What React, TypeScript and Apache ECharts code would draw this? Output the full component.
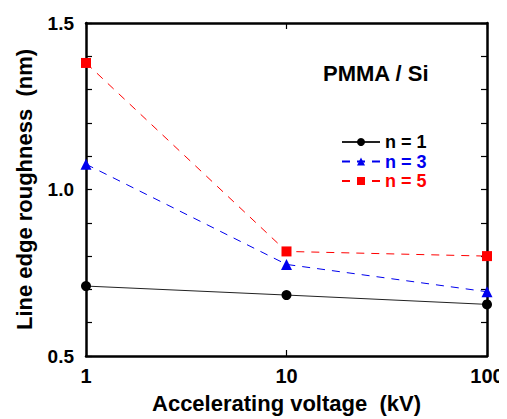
import React, { useEffect, useRef } from "react";
import * as echarts from "echarts";

const voltages = [1, 10, 100];
const n1 = [0.71, 0.683, 0.655];
const n3 = [1.076, 0.775, 0.693];
const n5 = [1.38, 0.814, 0.8];
const seriesNames = ["n = 1", "n = 3", "n = 5"];
const yLabels = [0.5, 1.0, 1.5];

const FONT = "Liberation Sans, Arial, sans-serif";

export default function App() {
  const ref = useRef<HTMLDivElement>(null);
  useEffect(() => {
    if (!ref.current) return;
    const chart = echarts.init(ref.current, null, { renderer: "svg" });
    const pair = (ys: number[]) => voltages.map((v, i) => [v, ys[i]]);
    const mkLine = () => ({ show: true, onZero: false, lineStyle: { color: "#000", width: 2.5 } });
    const mkTick = () => ({ show: true, inside: true, length: 6, lineStyle: { color: "#000", width: 1.2 } });
    chart.setOption({
      animation: false,
      backgroundColor: "#fff",
      grid: { left: 86, top: 23, right: 20, bottom: 61, containLabel: false },
      graphic: [
        {
          type: "text",
          left: 323,
          top: 62,
          style: { text: "PMMA / Si", font: `bold 22px ${FONT}`, fill: "#000" },
        },
      ],
      legend: {
        orient: "vertical",
        left: 336,
        top: 128,
        itemWidth: 38,
        itemHeight: 10,
        itemGap: 1.5,
        textStyle: { fontFamily: FONT, fontWeight: "bold", fontSize: 18 },
        data: [
          { name: seriesNames[0], textStyle: { color: "#000" } },
          { name: seriesNames[1], textStyle: { color: "#0000ee" } },
          { name: seriesNames[2], textStyle: { color: "#ff0000" } },
        ],
      },
      xAxis: [
        {
          type: "log",
          logBase: 10,
          min: 1,
          max: 100,
          name: "Accelerating voltage  (kV)",
          nameLocation: "middle",
          nameGap: 36,
          nameTextStyle: { fontFamily: FONT, fontWeight: "bold", fontSize: 22, color: "#000" },
          axisLine: mkLine(),
          axisTick: mkTick(),
          splitLine: { show: false },
          axisLabel: {
            fontFamily: FONT,
            fontWeight: "bold",
            fontSize: 20,
            color: "#000",
            margin: 10,
          },
        },
        {
          type: "log",
          logBase: 10,
          min: 1,
          max: 100,
          position: "top",
          axisLine: mkLine(),
          axisTick: mkTick(),
          splitLine: { show: false },
          axisLabel: { show: false },
        },
      ],
      yAxis: [
        {
          type: "value",
          min: 0.5,
          max: 1.5,
          interval: 0.1,
          name: "Line edge roughness  (nm)",
          nameLocation: "middle",
          nameGap: 51,
          nameTextStyle: { fontFamily: FONT, fontWeight: "bold", fontSize: 22, color: "#000" },
          axisLine: mkLine(),
          axisTick: mkTick(),
          splitLine: { show: false },
          axisLabel: {
            fontFamily: FONT,
            fontWeight: "bold",
            fontSize: 19,
            color: "#000",
            margin: 12,
            formatter: (v: number) => {
              const hit = yLabels.find((l) => Math.abs(l - v) < 1e-6);
              return hit !== undefined ? hit.toFixed(1) : "";
            },
          },
        },
        {
          type: "value",
          min: 0.5,
          max: 1.5,
          interval: 0.1,
          position: "right",
          axisLine: mkLine(),
          axisTick: mkTick(),
          splitLine: { show: false },
          axisLabel: { show: false },
        },
      ],
      series: [
        {
          name: seriesNames[0],
          type: "line",
          data: pair(n1),
          symbol: "circle",
          symbolSize: 10,
          itemStyle: { color: "#000" },
          lineStyle: { color: "#222", width: 1, type: "solid" },
        },
        {
          name: seriesNames[1],
          type: "line",
          data: pair(n3),
          symbol: "triangle",
          symbolSize: 11,
          itemStyle: { color: "#0000ee" },
          lineStyle: { color: "#0000ee", width: 1, type: [8, 7] },
        },
        {
          name: seriesNames[2],
          type: "line",
          data: pair(n5),
          symbol: "rect",
          symbolSize: 10,
          itemStyle: { color: "#ff0000" },
          lineStyle: { color: "#ff0000", width: 1, type: [8, 7] },
        },
      ],
    });
    return () => chart.dispose();
  }, []);
  return <div ref={ref} style={{ width: 507, height: 419, marginLeft: -8, marginTop: -8 }} />;
}
